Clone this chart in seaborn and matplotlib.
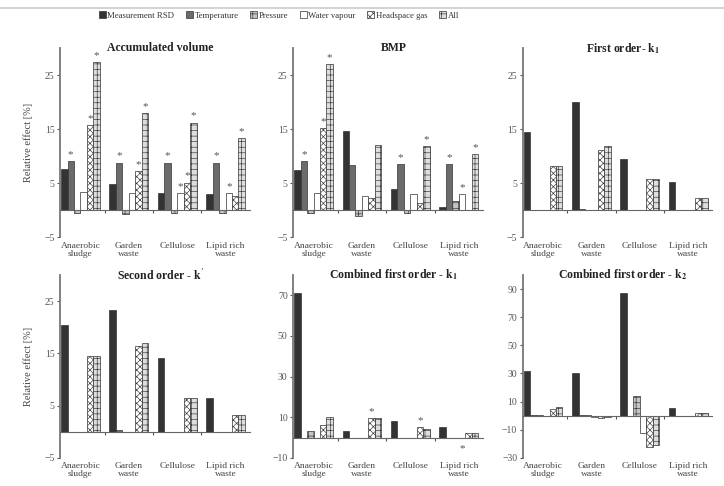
import matplotlib
matplotlib.use("Agg")
import matplotlib.pyplot as plt
import matplotlib.transforms as mtransforms
from matplotlib.patches import Patch
from matplotlib.lines import Line2D
import seaborn as sb
import pandas as pd
import numpy as np

# categories / series
categories = ["Anaerobic\nsludge", "Garden\nwaste", "Cellulose", "Lipid rich\nwaste"]
series = ["Measurement RSD", "Temperature", "Pressure", "Water vapour", "Headspace gas", "All"]

# one row per series, one column per category  (relative effect, %)
acc_volume = [
    [7.7, 4.8, 3.1, 2.9],
    [9.1, 8.8, 8.8, 8.8],
    [-0.6, -0.8, -0.5, -0.6],
    [3.4, 3.1, 3.1, 3.1],
    [15.7, 7.3, 5.1, 2.6],
    [27.4, 18.0, 16.2, 13.3],
]
acc_volume_stars = [(1, 0), (4, 0), (5, 0), (1, 1), (4, 1), (5, 1),
                    (1, 2), (3, 2), (4, 2), (5, 2), (1, 3), (3, 3), (5, 3)]

bmp = [
    [7.4, 14.6, 4.0, 0.6],
    [9.1, 8.3, 8.5, 8.5],
    [-0.5, -1.0, -0.5, 1.7],
    [3.1, 2.7, 2.9, 2.9],
    [15.2, 2.3, 1.4, 0.1],
    [27.0, 12.0, 11.9, 10.4],
]
bmp_stars = [(1, 0), (4, 0), (5, 0), (1, 2), (5, 2), (1, 3), (3, 3), (5, 3)]

first_k1 = [
    [14.5, 20.1, 9.5, 5.2],
    [0.0, 0.3, 0.0, 0.0],
    [0.0, 0.0, 0.0, 0.0],
    [0.0, 0.0, 0.0, 0.0],
    [8.1, 11.2, 5.7, 2.3],
    [8.1, 11.9, 5.7, 2.3],
]

second_k = [
    [20.4, 23.3, 14.2, 6.4],
    [0.0, 0.3, 0.0, 0.0],
    [0.0, 0.0, 0.0, 0.0],
    [0.0, 0.0, 0.0, 0.0],
    [14.5, 16.4, 6.4, 3.2],
    [14.5, 16.9, 6.4, 3.2],
]

comb_k1 = [
    [71.2, 3.1, 8.0, 5.1],
    [0.0, 0.0, -0.3, 0.0],
    [3.1, 0.0, 0.0, 0.0],
    [0.0, 0.0, 0.0, -0.3],
    [6.3, 9.4, 5.4, 2.2],
    [10.2, 9.4, 4.3, 2.2],
]
comb_k1_stars = [(4, 1), (4, 2), (3, 3)]

comb_k2 = [
    [31.5, 30.4, 87.5, 5.3],
    [0.5, 0.5, 0.0, 0.0],
    [0.5, 0.5, 14.0, 0.0],
    [0.0, -1.0, -12.5, 0.0],
    [4.5, -1.5, -22.5, 1.8],
    [6.0, -0.8, -21.0, 1.8],
]

colors = ["#333333", "#6b6b6b", "#c4c4c4", "#ffffff", "#ffffff", "#dedede"]
hatches = [None, None, "+++", None, "xxxxx", "+++"]

sb.set_style("white")
plt.rcParams["font.family"] = ["Liberation Serif", "DejaVu Serif"]
plt.rcParams["mathtext.fontset"] = "stix"
plt.rcParams["hatch.linewidth"] = 0.45
plt.rcParams["hatch.color"] = "#555555"


def to_long(values):
    rows = []
    for s, name in enumerate(series):
        for c, cat in enumerate(categories):
            rows.append({"category": cat, "series": name, "value": values[s][c]})
    return pd.DataFrame(rows)


def draw_panel(ax, values, title, ylim, yticks, stars=(), ylabel=False):
    df = to_long(values)
    sb.barplot(data=df, x="category", y="value", hue="series", order=categories,
               hue_order=series, palette=colors, saturation=1, width=0.8,
               edgecolor="#333333", linewidth=0.5, legend=False, errorbar=None, ax=ax)
    for s, cont in enumerate(ax.containers):
        for bar in cont:
            if hatches[s]:
                bar.set_hatch(hatches[s])

    span = ylim[1] - ylim[0]
    for s, c in stars:
        bar = ax.containers[s][c]
        v = values[s][c]
        x = bar.get_x() + bar.get_width() / 2
        y = v + 0.035 * span if v >= 0 else v - 0.06 * span
        ax.text(x, y, "*", ha="center", va="center", fontsize=8, color="#555555")

    ax.set_ylim(*ylim)
    ax.set_xlim(-0.42, 3.5)
    ax.set_yticks(yticks)
    ax.tick_params(axis="y", labelsize=7, length=2.5, width=0.8, colors="#555555",
                   direction="out", left=True, pad=1.5)
    ax.set_xticks([0.5, 1.5, 2.5])
    ax.set_xticklabels([])
    ax.tick_params(axis="x", length=2, width=0.8, colors="#555555", direction="out", bottom=True)
    ax.set_xlabel("")
    ax.set_ylabel("Relative effect [%]" if ylabel else "", fontsize=7.5, color="#444444", labelpad=8)

    for sp in ["top", "right"]:
        ax.spines[sp].set_visible(False)
    ax.spines["left"].set_color("#777777")
    ax.spines["left"].set_linewidth(1.3)
    ax.spines["bottom"].set_position(("data", 0))
    ax.spines["bottom"].set_color("#666666")
    ax.spines["bottom"].set_linewidth(0.8)

    trans = mtransforms.blended_transform_factory(ax.transData, ax.transAxes)
    for i, cat in enumerate(categories):
        ax.text(i, -0.025, cat, transform=trans, ha="center", va="top",
                fontsize=6.8, color="#444444", linespacing=0.95)

    ax.text(0.53, 1.0, title, transform=ax.transAxes, ha="center", va="center",
            fontsize=8.5, fontweight="bold", color="#222222")


fig = plt.figure(figsize=(7.24, 4.86), dpi=100)
lefts = [0.083, 0.405, 0.722]
w = 0.262
top_b, top_h = 0.512, 0.389
bot_b, bot_h = 0.058, 0.376

ax1 = fig.add_axes([lefts[0], top_b, w, top_h])
ax2 = fig.add_axes([lefts[1], top_b, w, top_h])
ax3 = fig.add_axes([lefts[2], top_b, w, top_h])
ax4 = fig.add_axes([lefts[0], bot_b, w, bot_h])
ax5 = fig.add_axes([lefts[1], bot_b, w, bot_h])
ax6 = fig.add_axes([lefts[2], bot_b, w, bot_h])

draw_panel(ax1, acc_volume, "Accumulated volume", (-5, 30), [-5, 5, 15, 25], acc_volume_stars, ylabel=True)
draw_panel(ax2, bmp, "BMP", (-5, 30), [-5, 5, 15, 25], bmp_stars)
draw_panel(ax3, first_k1, r"First order- $\mathbf{k_1}$", (-5, 30), [-5, 5, 15, 25])
draw_panel(ax4, second_k, r"Second order - $\mathbf{k'}$", (-5, 30), [-5, 5, 15, 25], ylabel=True)
draw_panel(ax5, comb_k1, r"Combined first order - $\mathbf{k_1}$", (-10, 80), [-10, 10, 30, 50, 70], comb_k1_stars)
draw_panel(ax6, comb_k2, r"Combined first order - $\mathbf{k_2}$", (-30, 100), [-30, -10, 10, 30, 50, 70, 90])

handles = [Patch(facecolor=colors[i], edgecolor="#333333", linewidth=0.5,
                 hatch=hatches[i]) for i in range(len(series))]
fig.legend(handles, series, loc="center", bbox_to_anchor=(0.385, 0.968), ncol=6,
           frameon=False, fontsize=6.3, handlelength=0.8, handleheight=0.8,
           handletextpad=0.2, columnspacing=1.3, labelcolor="#333333")

fig.add_artist(Line2D([0.0, 1.0], [0.983, 0.983], transform=fig.transFigure,
                      color="#cccccc", linewidth=1.2))

fig.savefig("out.png", dpi=100)
